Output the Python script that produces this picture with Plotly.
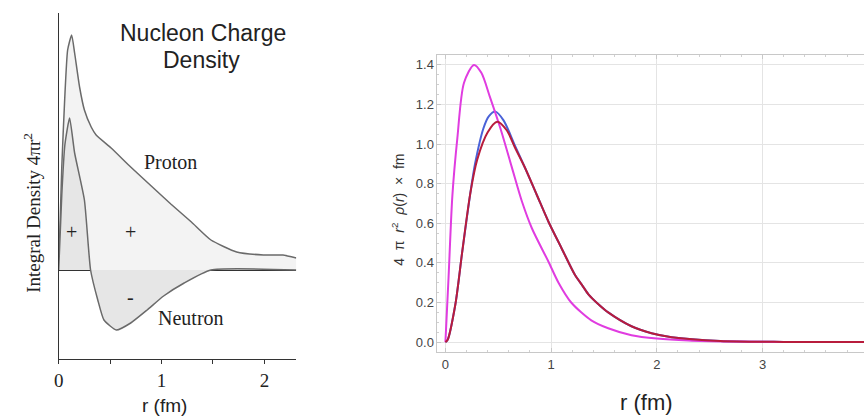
import plotly.graph_objects as go

# ---------------- Left panel (schematic) data ----------------
proton_r = [0, 0.03, 0.058, 0.087, 0.126, 0.155, 0.203, 0.25, 0.316, 0.364, 0.51, 0.70, 0.90, 1.09, 1.29, 1.48, 1.73, 1.99, 2.18, 2.31]
proton_y = [0, 1.03, 1.70, 2.20, 2.35, 2.17, 1.83, 1.60, 1.43, 1.35, 1.22, 1.03, 0.84, 0.66, 0.48, 0.30, 0.18, 0.15, 0.15, 0.12]

neutron_r = [0, 0.03, 0.06, 0.106, 0.155, 0.25, 0.31, 0.38, 0.44, 0.56, 0.70, 0.86, 1.02, 1.22, 1.48, 2.31]
neutron_y = [0, 0.75, 1.25, 1.52, 1.17, 0.70, 0.0, -0.30, -0.50, -0.60, -0.53, -0.40, -0.26, -0.13, 0.0, 0.0]

left_tickvals = [0, 1, 2]

# ---------------- Right panel data ----------------
magenta_r = [0, 0.03, 0.066, 0.113, 0.176, 0.27, 0.34, 0.42, 0.52, 0.63, 0.724, 0.818, 0.975, 1.07, 1.19, 1.38, 1.54, 1.76, 2.0, 2.3, 2.7, 3.2, 4.0]
magenta_y = [0, 0.33, 0.74, 1.03, 1.31, 1.40, 1.36, 1.24, 1.08, 0.88, 0.71, 0.575, 0.406, 0.30, 0.20, 0.11, 0.07, 0.035, 0.018, 0.008, 0.003, 0.001, 0.0]

red_r = [0, 0.02, 0.094, 0.16, 0.235, 0.30, 0.40, 0.49, 0.58, 0.66, 0.755, 0.865, 0.975, 1.10, 1.226, 1.29, 1.355, 1.45, 1.54, 1.76, 1.95, 2.14, 2.6, 3.2, 4.0]
red_y = [0, 0.01, 0.19, 0.46, 0.75, 0.92, 1.06, 1.113, 1.07, 0.98, 0.878, 0.743, 0.608, 0.473, 0.339, 0.29, 0.24, 0.19, 0.15, 0.08, 0.045, 0.025, 0.006, 0.001, 0.0]

blue_r = [0, 0.02, 0.094, 0.16, 0.235, 0.28, 0.36, 0.41, 0.473, 0.55, 0.66, 0.755, 0.865, 0.975, 1.10, 1.226, 1.29, 1.355, 1.45, 1.54, 1.76, 1.95, 2.14, 2.6, 3.2, 4.0]
blue_y = [0, 0.01, 0.19, 0.46, 0.75, 0.90, 1.08, 1.14, 1.164, 1.12, 0.99, 0.878, 0.743, 0.608, 0.473, 0.339, 0.29, 0.24, 0.19, 0.15, 0.08, 0.045, 0.025, 0.006, 0.001, 0.0]

right_yticks = [0.0, 0.2, 0.4, 0.6, 0.8, 1.0, 1.2, 1.4]
right_xticks = [0, 1, 2, 3, 4]

W, H = 864, 418

def px(x):
    return x / W

def py(y):
    return 1 - y / H

fig = go.Figure()

curve_col = "#6a6a6a"
fig.add_trace(go.Scatter(x=proton_r, y=proton_y, mode="lines", fill="tozeroy",
                         fillcolor="#f3f3f3", line=dict(color=curve_col, width=1.5, shape="spline", smoothing=0.5),
                         xaxis="x", yaxis="y", showlegend=False, hoverinfo="skip"))
fig.add_trace(go.Scatter(x=neutron_r, y=neutron_y, mode="lines", fill="tozeroy",
                         fillcolor="#e6e6e6", line=dict(color=curve_col, width=1.5, shape="spline", smoothing=0.5),
                         xaxis="x", yaxis="y", showlegend=False, hoverinfo="skip"))

fig.add_trace(go.Scatter(x=blue_r, y=blue_y, mode="lines", line=dict(color="#4a62d8", width=2, shape="spline", smoothing=0.8),
                         xaxis="x2", yaxis="y2", showlegend=False))
fig.add_trace(go.Scatter(x=magenta_r, y=magenta_y, mode="lines", line=dict(color="#e03ce0", width=2, shape="spline", smoothing=0.8),
                         xaxis="x2", yaxis="y2", showlegend=False))
fig.add_trace(go.Scatter(x=red_r, y=red_y, mode="lines", line=dict(color="#b81c3c", width=2, shape="spline", smoothing=0.8),
                         xaxis="x2", yaxis="y2", showlegend=False))

serif = "Liberation Serif, Times New Roman, serif"
sans = "Liberation Sans, Arial, sans-serif"

fig.update_layout(
    width=W, height=H,
    margin=dict(l=0, r=0, t=0, b=0),
    paper_bgcolor="white", plot_bgcolor="rgba(0,0,0,0)",
    xaxis=dict(domain=[px(54), px(293)], range=[0, 2.31], anchor="y",
               showline=True, linecolor="#333", linewidth=1.2, showgrid=False, zeroline=False,
               tickvals=left_tickvals, ticks="outside", ticklen=4,
               minor=dict(dtick=0.5, ticks="outside", ticklen=4, tickcolor="#333", showgrid=False),
               tickcolor="#333", tickfont=dict(family=serif, size=19, color="#222")),
    yaxis=dict(domain=[py(359), py(13)], range=[-0.89, 2.57], anchor="x",
               showline=True, linecolor="#333", linewidth=1.2, showgrid=False,
               zeroline=True, zerolinecolor="#333", zerolinewidth=1.2,
               showticklabels=False, ticks=""),
    xaxis2=dict(domain=[px(435), 1.0], range=[-0.075, 3.96], anchor="y2",
                showline=True, linecolor="#c8c8c8", linewidth=1, mirror="allticks",
                showgrid=True, gridcolor="#e4e4e4", gridwidth=1, zeroline=False,
                tickvals=right_xticks, ticks="inside", ticklen=4, tickcolor="#c8c8c8",
                minor=dict(dtick=0.2, ticks="inside", ticklen=2, tickcolor="#d0d0d0", showgrid=False),
                tickfont=dict(family=sans, size=13, color="#444")),
    yaxis2=dict(domain=[py(352), py(55)], range=[-0.05, 1.45], anchor="x2",
                showline=True, linecolor="#c8c8c8", linewidth=1,
                showgrid=True, gridcolor="#e4e4e4", gridwidth=1, zeroline=False,
                tickvals=right_yticks, tickformat=".1f", ticks="inside", ticklen=4, tickcolor="#c8c8c8",
                minor=dict(dtick=0.05, ticks="inside", ticklen=2, tickcolor="#d0d0d0", showgrid=False),
                tickfont=dict(family=sans, size=13, color="#444")),
)

annotations = [
    dict(text="Nucleon Charge", x=px(199), y=py(33), font=dict(family=sans, size=23, color="#222")),
    dict(text="Density", x=px(198), y=py(60), font=dict(family=sans, size=23, color="#222")),
    dict(text="Proton", x=px(166), y=py(162), font=dict(family=serif, size=20, color="#222")),
    dict(text="Neutron", x=px(187), y=py(318), font=dict(family=serif, size=20, color="#222")),
    dict(text="+", x=px(67), y=py(232), font=dict(family=serif, size=20, color="#222")),
    dict(text="+", x=px(126), y=py(232), font=dict(family=serif, size=20, color="#222")),
    dict(text="-", x=px(126), y=py(297), font=dict(family=serif, size=20, color="#222")),
    dict(text="Integral Density 4πr<sup>2</sup>", x=px(27), y=py(213), textangle=-90,
         font=dict(family=serif, size=19, color="#222")),
    dict(text="r (fm)", x=px(160), y=py(405), font=dict(family=sans, size=19, color="#222")),
    dict(text="4  π  <i>r</i><sup>2</sup>  <i>ρ</i>(<i>r</i>)  ×  fm", x=px(395), y=py(210), textangle=-90,
         font=dict(family=sans, size=14, color="#333")),
    dict(text="r (fm)", x=px(645), y=py(402), font=dict(family=sans, size=22, color="#222")),
]
for a in annotations:
    a.update(xref="paper", yref="paper", showarrow=False, xanchor="center", yanchor="middle")
fig.update_layout(annotations=annotations)

fig.write_html("out.html", config={"displayModeBar": False},
               post_script="document.body.style.margin='0px';")
